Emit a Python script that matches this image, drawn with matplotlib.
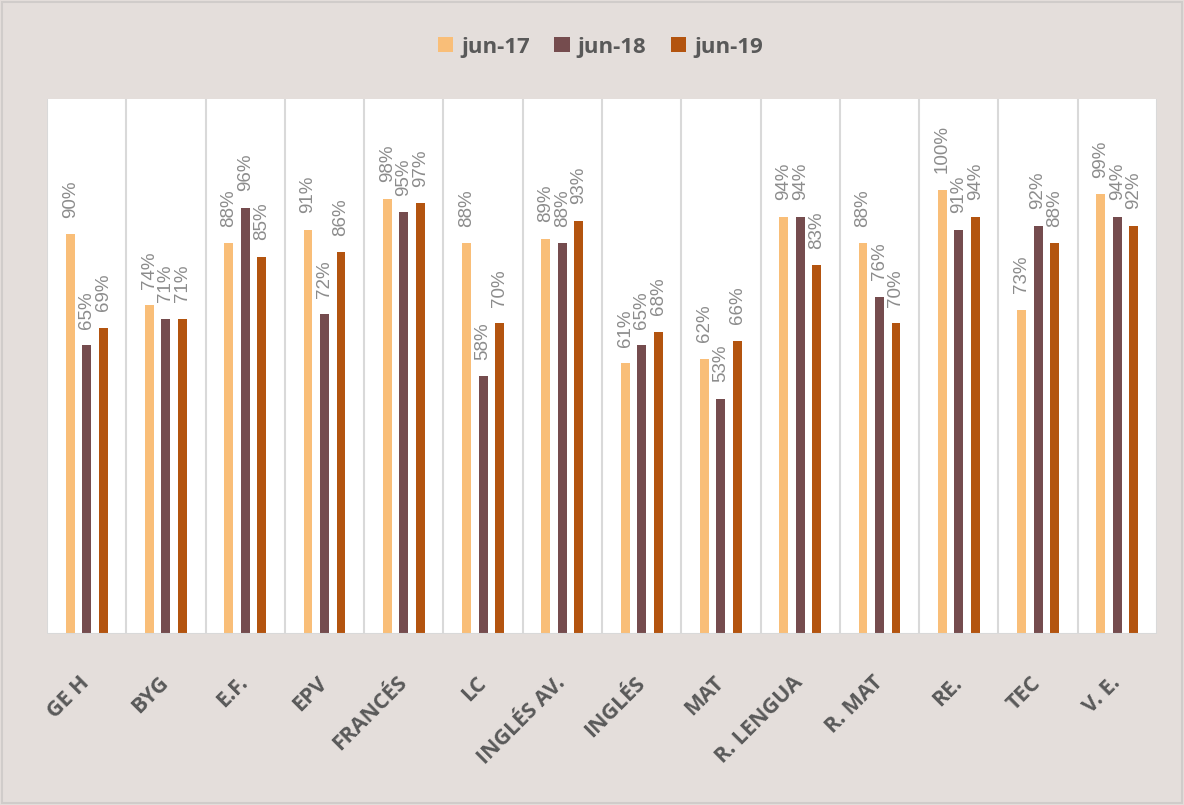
import matplotlib
matplotlib.use("Agg")
import matplotlib.pyplot as plt
from matplotlib.patches import Rectangle
import numpy as np

categories = ["GE H", "BYG", "E.F.", "EPV", "FRANCÉS", "LC", "INGLÉS AV.", "INGLÉS",
              "MAT", "R. LENGUA", "R. MAT", "RE.", "TEC", "V. E."]
series_names = ["jun-17", "jun-18", "jun-19"]
jun17 = [90, 74, 88, 91, 98, 88, 89, 61, 62, 94, 88, 100, 73, 99]
jun18 = [65, 71, 96, 72, 95, 58, 88, 65, 53, 94, 76, 91, 92, 94]
jun19 = [69, 71, 85, 86, 97, 70, 93, 68, 66, 83, 70, 94, 88, 92]
colors = ["#F9BE78", "#754C4E", "#B3540F"]

plt.rcParams['font.family'] = ['Open Sans', 'DejaVu Sans']

bg = "#E4DEDB"
fig = plt.figure(figsize=(11.84, 8.05), dpi=100, facecolor=bg)
ax = fig.add_axes([47/1184, 1-634/805, (1157-47)/1184, (634-99)/805])
ax.set_facecolor("white")

x = np.arange(len(categories))
offsets = [-0.208, 0.0, 0.208]
width = 0.112
for vals, name, col, off in zip([jun17, jun18, jun19], series_names, colors, offsets):
    bars = ax.bar(x + off, [v/100 for v in vals], width=width, color=col, label=name, zorder=3)
    for b, v in zip(bars, vals):
        ax.annotate(f"{v}%", (b.get_x() + b.get_width()/2, b.get_height()),
                    xytext=(0, 12), textcoords="offset points", rotation=90,
                    ha="center", va="bottom", fontsize=13.5, color="#8C8C8C",
                    family=['Liberation Sans', 'DejaVu Sans'])

ax.set_xlim(-0.5, len(categories) - 0.5)
ax.set_ylim(0, 1.205)
ax.set_yticks([])
for i in range(len(categories) + 1):
    ax.axvline(i - 0.5, color="#D9D9D9", lw=1.5, zorder=1)
for s in ax.spines.values():
    s.set_visible(False)
ax.axhline(0, color="#D9D9D9", lw=1.5, zorder=4)

ax.set_xticks(x)
ax.set_xticklabels(categories, rotation=45, ha="right", va="center",
                   rotation_mode="anchor", fontsize=15.5, fontweight="bold", color="#595959",
                   family=['Open Sans', 'DejaVu Sans'])
ax.tick_params(axis="x", length=0, pad=33)

leg = fig.legend(loc="center", bbox_to_anchor=(0.507, 1-47/805), ncol=3, frameon=False,
                 prop={'size': 16, 'weight': 'bold'}, handlelength=0.7, handleheight=0.7,
                 handletextpad=0.35, columnspacing=1.1)
for t in leg.get_texts():
    t.set_color("#595959")

fig.patches.append(Rectangle((0.002, 0.002), 0.996, 0.996, transform=fig.transFigure,
                             fill=False, edgecolor="#D0CCCA", lw=1.5))

fig.savefig("out.png", dpi=100, facecolor=bg)
